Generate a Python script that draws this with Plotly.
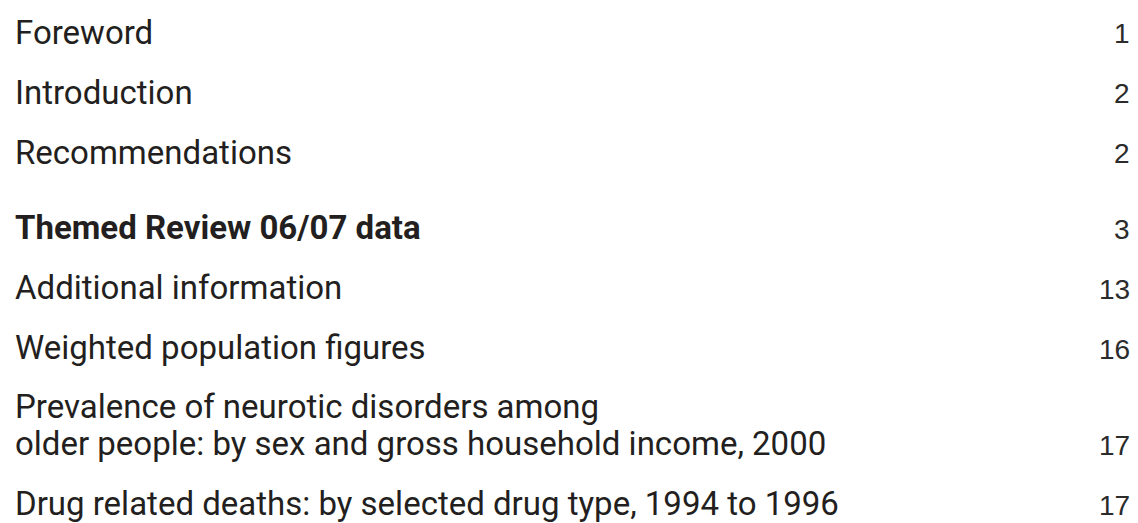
import plotly.graph_objects as go

# ---- data ----
titles = [
    "Foreword",
    "Introduction",
    "Recommendations",
    "Themed Review 06/07 data",
    "Additional information",
    "Weighted population figures",
    "Prevalence of neurotic disorders among\nolder people: by sex and gross household income, 2000",
    "Drug related deaths: by selected drug type, 1994 to 1996",
]
pages = [1, 2, 2, 3, 13, 16, 17, 17]
bold_flags = [False, False, False, True, False, False, False, False]

# ---- layout (page-pixel coordinates) ----
W, H = 1138, 523
baselines = [43.5, 103.5, 163.5, 239, 299, 359, 418, 515]  # baseline of first line of each entry
line_gap = 37
title_size = 33
page_size = 28
ink = "#231f20"
title_font = "Roboto"
page_font = "Liberation Sans"

fig = go.Figure()
fig.add_trace(go.Scatter(x=[0, W], y=[0, H], mode="markers",
                         marker=dict(opacity=0), hoverinfo="skip", showlegend=False))

annotations = []
for title, page, bold, base in zip(titles, pages, bold_flags, baselines):
    lines = title.split("\n")
    for i, ln in enumerate(lines):
        b = base + i * line_gap
        txt = f"<b>{ln}</b>" if bold else ln
        annotations.append(dict(
            x=15, y=b - 0.342 * title_size, xref="x", yref="y",
            text=txt, showarrow=False, xanchor="left", yanchor="middle",
            borderpad=0, borderwidth=0,
            font=dict(family=title_font, size=title_size, color=ink),
        ))
    b_last = base + (len(lines) - 1) * line_gap
    annotations.append(dict(
        x=1130, y=b_last - 0.3465 * page_size, xref="x", yref="y",
        text=str(page), showarrow=False, xanchor="right", yanchor="middle",
        borderpad=0, borderwidth=0,
        font=dict(family=page_font, size=page_size, color="#2b2b2b"),
    ))

fig.update_layout(
    width=W, height=H,
    margin=dict(l=0, r=0, t=0, b=0),
    paper_bgcolor="white", plot_bgcolor="white",
    xaxis=dict(range=[0, W], visible=False, fixedrange=True),
    yaxis=dict(range=[H, 0], visible=False, fixedrange=True),
    annotations=annotations,
    showlegend=False,
)

fig.write_html(
    "out.html",
    config={"displayModeBar": False},
    post_script="document.body.style.margin='0px';document.body.style.overflow='hidden';",
)
